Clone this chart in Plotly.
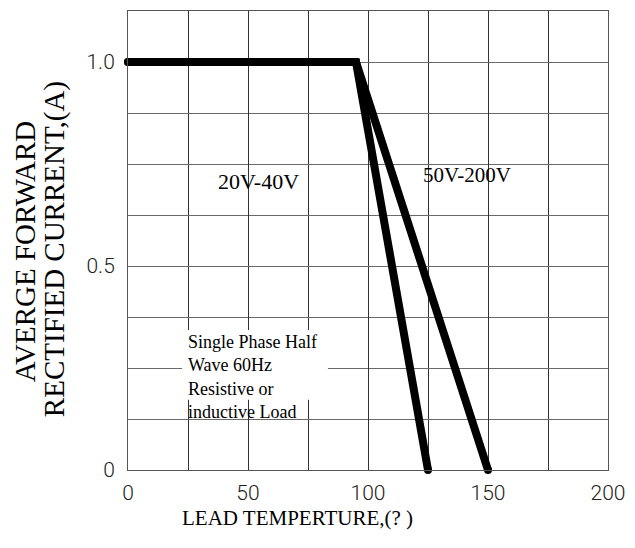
import plotly.graph_objects as go

# ---- data ----
temp_20_40 = [0, 95, 125]
curr_20_40 = [1.0, 1.0, 0.0]
temp_50_200 = [0, 95, 150]
curr_50_200 = [1.0, 1.0, 0.0]

x_tickvals = [0, 50, 100, 150, 200]
x_ticktext = ["0", "50", "100", "150", "200"]
y_tickvals = [0, 0.5, 1.0]
y_ticktext = ["0", "0.5", "1.0"]

label_20_40 = "20V-40V"
label_50_200 = "50V-200V"
note_text = "Single Phase Half<br>Wave 60Hz<br>Resistive or<br>inductive Load"
x_title = "LEAD TEMPERTURE,(? )"
y_title_1 = "AVERGE FORWARD"
y_title_2 = "RECTIFIED CURRENT,(A)"

SERIF = "Liberation Serif, Times New Roman, serif"
SANS = "Roboto, Liberation Sans, sans-serif"

fig = go.Figure()
for xs, ys, name in [(temp_50_200, curr_50_200, label_50_200), (temp_20_40, curr_20_40, label_20_40)]:
    fig.add_trace(go.Scatter(
        x=xs, y=ys, name=name, mode="lines+markers",
        line=dict(color="black", width=8),
        marker=dict(color="black", size=8),
        cliponaxis=False, showlegend=False, hoverinfo="skip",
    ))

grid_v = "#333333"
grid_h = "#6a6a6a"

fig.update_xaxes(
    range=[0, 200], tickmode="array", tickvals=x_tickvals, ticktext=x_ticktext,
    showgrid=True, gridcolor=grid_v, gridwidth=1,
    minor=dict(dtick=25, tick0=0, showgrid=True, gridcolor=grid_v, gridwidth=1),
    showline=True, linecolor="#555555", linewidth=1, mirror=True,
    ticks="", zeroline=False,
    tickfont=dict(family=SANS, size=21, color="#222222", weight=300),
    ticklabelstandoff=4,
)
fig.update_yaxes(
    range=[0, 1.125], tickmode="array", tickvals=y_tickvals, ticktext=y_ticktext,
    showgrid=True, gridcolor=grid_h, gridwidth=1,
    minor=dict(dtick=0.125, tick0=0, showgrid=True, gridcolor=grid_h, gridwidth=1),
    showline=True, linecolor="#555555", linewidth=1, mirror=True,
    ticks="", zeroline=False,
    tickfont=dict(family=SANS, size=21, color="#222222", weight=300),
    ticklabelstandoff=8,
)

# white box behind the note that interrupts the grid
fig.add_shape(type="rect", xref="x", yref="y", x0=22.5, x1=83.3, y0=0.172, y1=0.343,
              fillcolor="white", line=dict(width=0), layer="between")

fig.add_annotation(x=24.2, y=0.227, xref="x", yref="y", text=note_text,
                   showarrow=False, xanchor="left", yanchor="middle", align="left",
                   font=dict(family=SERIF, size=18, color="black"))
fig.add_annotation(x=54.2, y=0.706, xref="x", yref="y", text=label_20_40,
                   showarrow=False, font=dict(family=SERIF, size=22, color="black"))
fig.add_annotation(x=141.3, y=0.723, xref="x", yref="y", text=label_50_200,
                   showarrow=False, font=dict(family=SERIF, size=21, color="black"))

# axis titles
fig.add_annotation(x=(297 - 128) / 480, y=(470 - 518) / 459.3, xref="paper", yref="paper",
                   text=x_title, showarrow=False, xanchor="center", yanchor="middle",
                   font=dict(family=SERIF, size=21, color="black"))
fig.add_annotation(x=(25 - 128) / 480, y=(470 - 252) / 459.3, xref="paper", yref="paper",
                   text=y_title_1, showarrow=False, textangle=-90,
                   xanchor="center", yanchor="middle", borderpad=0,
                   font=dict(family=SERIF, size=29, color="black"))
fig.add_annotation(x=(54 - 128) / 480, y=(470 - 249) / 459.3, xref="paper", yref="paper",
                   text=y_title_2, showarrow=False, textangle=-90,
                   xanchor="center", yanchor="middle", borderpad=0,
                   font=dict(family=SERIF, size=29, color="black"))

# page body has an 8px margin: figure sized so the plot area lands at x 128-608, y 11-470
fig.update_layout(
    width=627, height=540,
    margin=dict(l=120, r=27, t=3, b=78),
    paper_bgcolor="white", plot_bgcolor="white",
)

fig.write_html("out.html")
